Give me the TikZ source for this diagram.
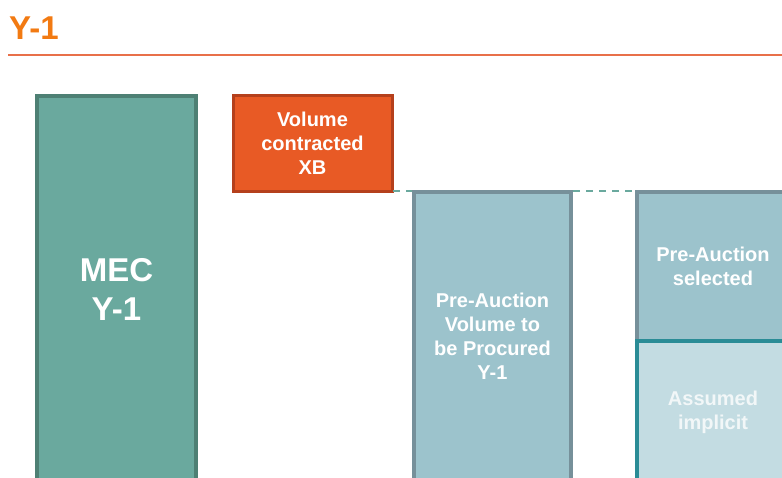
\documentclass[tikz,border=0pt]{standalone}
\usepackage{fontspec}
\setmainfont{Liberation Sans}
\definecolor{titleorange}{HTML}{F27A12}
\definecolor{ruleorange}{HTML}{E8704A}
\definecolor{mecfill}{HTML}{6AA99E}
\definecolor{mecedge}{HTML}{4E8074}
\definecolor{xbfill}{HTML}{E85A25}
\definecolor{xbedge}{HTML}{B5401C}
\definecolor{volfill}{HTML}{9CC3CC}
\definecolor{voledge}{HTML}{76909A}
\definecolor{implfill}{HTML}{C3DCE2}
\definecolor{impledge}{HTML}{2A8C96}
\definecolor{impltext}{HTML}{F2F7F8}
\tikzset{
  bar/.style={draw, line width=4pt, inner sep=0pt, outer sep=0pt},
  label/.style={text=white, font=\bfseries\fontsize{20}{24}\selectfont, align=center},
}
\begin{document}
\begin{tikzpicture}[x=1pt, y=-1pt]
\useasboundingbox (0,0) rectangle (782,478);
\clip (0,0) rectangle (782,478);
% title and rule
\node[anchor=base west, inner sep=0pt, text=titleorange,
      font=\bfseries\fontsize{33}{33}\selectfont] (title) at (9,40) {Y-1};
\coordinate (ruleL) at (8,55);
\coordinate (ruleR) at (782,55);
\draw[ruleorange, line width=1.5pt] (ruleL) -- (ruleR);
% bars
\draw[bar, fill=mecfill, draw=mecedge] (37,96) rectangle (196,490);
\node[label, font=\bfseries\fontsize{33}{39}\selectfont] (mec) at (116.5,289) {MEC\\Y-1};
\draw[bar, line width=3pt, fill=xbfill, draw=xbedge] (233,96) rectangle (392,192);
\node[label] (xb) at (312.5,143) {Volume\\contracted\\XB};
\draw[bar, fill=volfill, draw=voledge] (414,192) rectangle (571,490);
\node[label] (vol) at (492.5,336) {Pre-Auction\\Volume to\\be Procured\\Y-1};
\draw[bar, fill=volfill, draw=voledge] (637,192) rectangle (800,341);
\node[label] (sel) at (713,266) {Pre-Auction\\selected};
\draw[bar, fill=implfill, draw=impledge] (637,341) rectangle (800,490);
\node[label, text=impltext] (impl) at (713,412) {Assumed\\implicit};
% dashed level line
\coordinate (d1) at (393,191);
\coordinate (d2) at (412,191);
\coordinate (d3) at (573,191);
\coordinate (d4) at (635,191);
\draw[mecfill, line width=1.5pt, dash pattern=on 7pt off 6pt] (d1) -- (d2);
\draw[mecfill, line width=1.5pt, dash pattern=on 7pt off 6pt] (d3) -- (d4);
\end{tikzpicture}
\end{document}
